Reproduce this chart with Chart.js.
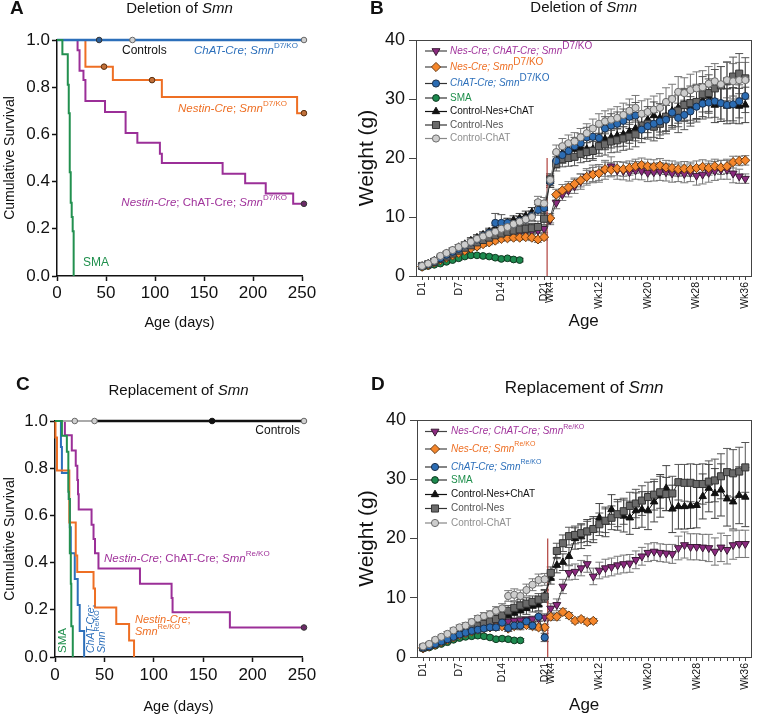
<!DOCTYPE html>
<html><head><meta charset="utf-8">
<script src="https://cdn.jsdelivr.net/npm/chart.js@4.4.1/dist/chart.umd.min.js"></script>
<style>
html,body{margin:0;padding:0;background:#fff;}
body{width:760px;height:716px;position:relative;overflow:hidden;}
canvas{position:absolute;}
</style></head><body>
<canvas id="cA" width="380" height="358" style="left:0;top:0"></canvas>
<canvas id="cB" width="420" height="358" style="left:340px;top:0"></canvas>
<canvas id="cC" width="380" height="358" style="left:0;top:358px"></canvas>
<canvas id="cD" width="420" height="358" style="left:340px;top:358px"></canvas>
<script>
// ================= DATA =================
// Panel A – Kaplan-Meier, deletion of Smn (event day, survival after event)
const aCtlT = [0, 252], aCtlS = [1, 1];
const aCtlCensT = [77, 252], aCtlCensS = [1, 1];
const aChatT = [0, 252], aChatS = [1, 1];
const aChatCensT = [43], aChatCensS = [1];
const aNesT = [0, 29, 57, 107, 245, 252];
const aNesS = [1, 0.887, 0.83, 0.759, 0.69, 0.69];
const aNesCensT = [48, 97, 252], aNesCensS = [0.887, 0.83, 0.69];
const aNesChatT = [0, 21, 23, 27, 29, 49, 70, 82, 105, 107, 169, 192, 213, 241, 252];
const aNesChatS = [1, 0.957, 0.87, 0.83, 0.742, 0.695, 0.606, 0.565, 0.518, 0.479, 0.433, 0.393, 0.35, 0.306, 0.306];
const aNesChatCensT = [252], aNesChatCensS = [0.306];
const aSmaT = [0, 5.5, 11, 12, 13, 14, 15, 16, 17];
const aSmaS = [1, 0.94, 0.81, 0.69, 0.44, 0.31, 0.25, 0.19, 0];

// Panel C – Kaplan-Meier, replacement of Smn
const cCtlGreyT = [0, 40], cCtlGreyS = [1, 1];
const cCtlBlackT = [40, 252], cCtlBlackS = [1, 1];
const cCtlCensT = [20, 40, 252], cCtlCensS = [1, 1, 1];
const cCtlBlackCensT = [159], cCtlBlackCensS = [1];
const cSmaT = [0, 7, 12, 13.5, 14, 15, 16, 16.5, 18];
const cSmaS = [1, 0.938, 0.87, 0.70, 0.67, 0.44, 0.31, 0.13, 0];
const cChatT = [0, 6, 7, 14, 15, 16, 20, 23, 25, 29.5];
const cChatS = [1, 0.89, 0.78, 0.67, 0.55, 0.44, 0.33, 0.22, 0.11, 0];
const cNesT = [0, 0.5, 2, 14.5, 21, 22.5, 39, 40.5, 62, 75, 80];
const cNesS = [1, 0.93, 0.79, 0.57, 0.43, 0.36, 0.29, 0.21, 0.14, 0.07, 0];
const cNesChatT = [0, 10, 17, 21, 22.6, 23.3, 24, 37, 39, 40.5, 44, 86, 118, 119, 177, 252];
const cNesChatS = [1, 0.94, 0.875, 0.81, 0.75, 0.69, 0.625, 0.56, 0.5, 0.44, 0.375, 0.31, 0.25, 0.19, 0.125, 0.125];
const cNesChatCensT = [252], cNesChatCensS = [0.125];

// Weight panels: age categories (tick labels)
const weightAges = ['D1','D2','D3','D4','D5','D6','D7','D8','D9','D10','D11','D12','D13','D14','D15','D16','D17','D18','D19','D20','D21',
  'Wk4','Wk5','Wk6','Wk7','Wk8','Wk9','Wk10','Wk11','Wk12','Wk13','Wk14','Wk15','Wk16','Wk17','Wk18','Wk19','Wk20','Wk21','Wk22','Wk23','Wk24','Wk25','Wk26','Wk27','Wk28','Wk29','Wk30','Wk31','Wk32','Wk33','Wk34','Wk35','Wk36'];
const shownAges = ['D1','D7','D14','D21','Wk4','Wk12','Wk20','Wk28','Wk36'];
const splitAt = 20.5, splitTop = 20;

// Panel B – weights (g), deletion
const bNesChat = [1.6,1.9,2.3,2.7,3.2,3.7,4.1,4.6,5.0,5.4,5.8,6.1,6.4,6.7,7.0,7.2,7.4,7.5,7.6,7.7,8.0,
  9.5,12.4,13.8,14.5,15.2,16.0,16.8,17.3,17.4,18.0,18.6,17.9,17.8,17.6,17.9,17.8,17.5,17.6,17.7,17.6,17.4,17.5,17.3,17.5,17.0,17.2,17.5,17.8,18.0,18.0,17.4,16.9,16.5];
const bNesChatErr = [0.2,0.2,0.2,0.3,0.3,0.3,0.3,0.4,0.4,0.4,0.4,0.5,0.5,0.5,0.5,0.5,0.5,0.5,0.5,0.5,0.6,
  0.8,1.0,1.0,1.1,1.2,1.3,1.4,1.5,1.5,1.6,1.6,1.5,1.5,1.5,1.5,1.5,1.5,1.5,1.5,1.5,1.5,1.5,1.5,1.5,1.6,1.6,1.6,1.6,1.6,1.6,1.6,1.2,0.8];
const bNes = [1.6,1.9,2.3,2.7,3.1,3.5,3.9,4.3,4.7,5.0,5.4,5.7,6.0,6.3,6.4,6.5,6.5,6.6,6.5,6.2,6.6,
  9.8,13.8,14.5,15.0,15.6,16.2,16.8,17.2,17.4,18.1,18.0,18.2,18.1,18.3,18.6,18.8,18.6,18.5,18.7,18.4,18.3,18.1,18.2,18.1,18.3,18.5,18.3,18.6,18.4,18.6,19.3,19.5,19.6];
const bNesErr = [0.2,0.2,0.2,0.2,0.3,0.3,0.3,0.3,0.3,0.4,0.4,0.4,0.4,0.4,0.4,0.4,0.4,0.4,0.5,0.5,0.5,
  0.8,0.9,1.0,1.0,1.0,1.1,1.1,1.2,1.2,1.2,1.2,1.2,1.2,1.2,1.2,1.2,1.2,1.2,1.2,1.2,1.2,1.2,1.2,1.2,1.2,1.2,1.2,1.2,1.2,1.2,1.0,0.8,0.8];
const bChat = [1.7,2.0,2.5,3.0,3.6,4.1,4.6,5.2,5.7,6.2,6.8,7.3,9.0,9.0,9.0,8.8,9.3,9.6,10.2,11.2,11.5,
  16.0,19.5,20.5,21.2,22.0,22.5,23.5,23.6,23.4,25.0,25.5,25.8,26.3,27.0,27.2,24.8,25.4,25.8,26.2,26.5,27.7,26.8,27.3,27.9,28.7,29.2,29.4,29.6,29.3,29.0,29.1,29.6,30.5];
const bChatErr = [0.2,0.2,0.3,0.3,0.3,0.4,0.4,0.4,0.5,0.5,0.5,0.6,1.6,1.4,0.8,0.8,0.8,0.8,0.8,0.9,0.9,
  1.0,1.2,1.4,1.5,1.5,1.6,1.7,1.8,1.8,2.0,2.0,2.0,2.0,2.0,2.2,2.2,2.2,2.3,2.3,2.4,2.5,2.5,2.5,2.5,2.6,2.6,2.6,2.7,2.7,2.7,2.8,2.8,2.8];
const bSma = [1.5,1.7,1.9,2.1,2.4,2.7,3.0,3.3,3.5,3.5,3.4,3.3,3.1,2.9,3.0,2.8,2.7];
const bSmaErr = [0.1,0.1,0.2,0.2,0.2,0.2,0.3,0.3,0.3,0.3,0.3,0.3,0.3,0.3,0.3,0.3,0.3];
const bCtlNesChat = [1.7,2.1,2.6,3.2,3.8,4.3,4.9,5.4,6.0,6.5,7.0,7.5,8.0,8.6,9.0,9.5,9.8,10.2,10.8,11.8,11.5,
  16.0,19.8,20.8,21.3,21.5,21.8,21.5,21.5,22.5,23.2,23.5,23.8,24.0,24.5,25.0,25.5,26.5,27.2,26.8,27.0,28.0,28.5,29.0,28.6,29.5,29.8,30.5,29.0,29.2,28.8,28.9,28.8,29.0];
const bCtlNesChatErr = [0.2,0.2,0.3,0.3,0.3,0.4,0.4,0.4,0.5,0.5,0.5,0.6,0.6,0.7,0.7,0.7,0.8,0.8,0.8,1.0,1.0,
  1.0,1.2,1.3,1.4,1.5,1.5,1.6,1.6,1.7,1.8,1.8,1.9,2.0,2.0,2.1,2.2,2.2,2.3,2.4,2.4,2.5,2.6,2.6,2.7,2.8,2.8,2.9,3.0,3.0,3.0,3.0,3.0,3.0];
const bCtlNes = [1.7,2.0,2.4,2.9,3.3,3.8,4.3,4.8,5.2,5.7,6.1,6.5,6.9,7.2,7.5,7.7,7.9,8.0,8.1,8.3,9.7,
  16.3,19.0,19.8,20.0,20.2,20.7,21.0,21.2,22.0,22.3,22.8,23.0,23.3,23.6,24.0,25.5,25.8,25.3,25.8,27.0,27.5,28.0,29.0,29.3,29.5,30.8,31.0,31.8,32.3,33.0,33.8,34.3,33.5];
const bCtlNesErr = [0.2,0.2,0.3,0.3,0.3,0.4,0.4,0.4,0.5,0.5,0.5,0.6,0.6,0.7,0.7,0.7,0.8,0.8,0.8,1.0,1.0,
  1.0,1.2,1.3,1.4,1.5,1.5,1.6,1.6,1.7,1.8,1.9,2.0,2.0,2.1,2.1,2.2,2.3,2.4,2.5,2.5,2.6,2.7,2.8,2.9,3.0,3.0,3.1,3.2,3.2,3.3,3.3,3.4,3.5];
const bCtlChat = [1.7,2.1,2.6,3.4,3.9,4.4,4.9,5.3,5.8,6.3,6.7,7.1,7.5,8.0,8.3,8.8,9.2,9.6,10.0,12.5,12.3,
  16.3,21.0,22.0,22.5,22.8,23.5,24.2,25.0,25.8,26.2,26.5,26.8,27.3,28.0,28.5,27.5,27.8,28.2,28.5,29.5,30.0,31.2,31.0,31.5,31.8,32.0,32.6,33.0,32.5,33.2,33.0,33.2,33.2];
const bCtlChatErr = [0.2,0.2,0.3,0.3,0.3,0.4,0.4,0.4,0.5,0.5,0.5,0.6,0.6,0.7,0.7,0.7,0.8,0.8,0.8,1.0,1.0,
  1.0,1.2,1.3,1.4,1.5,1.5,1.6,1.6,1.7,1.8,1.8,1.9,2.0,2.0,2.1,2.2,2.2,2.3,2.4,2.4,2.5,2.6,2.6,2.7,2.8,2.8,2.9,3.0,3.0,3.0,3.0,3.0,3.0];

// Panel D – weights (g), replacement
const dNesChat = [1.5,1.8,2.2,2.6,3.0,3.4,3.8,4.2,4.6,5.0,5.3,5.6,5.8,6.0,6.0,6.1,6.2,6.3,6.4,6.5,6.7,
  8.2,8.8,11.9,14.2,14.4,15.0,15.7,13.6,14.6,15.0,15.2,15.5,15.7,15.8,16.4,17.0,17.6,17.8,17.6,17.5,17.4,18.4,18.9,18.6,18.6,18.5,18.4,17.8,18.5,18.1,18.9,19.1,19.1];
const dNesChatErr = [0.2,0.2,0.2,0.3,0.3,0.3,0.3,0.4,0.4,0.4,0.4,0.5,0.5,0.5,0.5,0.5,0.5,0.5,0.5,0.5,0.6,
  0.8,1.0,1.2,1.2,1.3,1.3,1.4,1.4,1.4,1.5,1.5,1.5,1.5,1.5,1.5,1.5,1.5,1.5,1.5,1.5,1.6,2.0,2.2,2.2,2.2,2.2,2.3,2.3,2.4,2.4,2.4,2.3,2.3];
const dNes = [1.5,1.8,2.1,2.5,2.9,3.3,3.7,4.0,4.3,4.6,4.8,5.0,5.1,5.2,4.8,5.2,5.3,5.4,5.2,5.0,5.0,
  6.8,6.8,7.6,7.0,6.1,6.4,5.9,6.1];
const dNesErr = [0.2,0.2,0.2,0.2,0.3,0.3,0.3,0.3,0.3,0.4,0.4,0.4,0.4,0.4,0.4,0.4,0.4,0.4,0.5,0.5,0.5,
  0.6,0.6,0.6,0.5,0.4,0.4,0.4,0.4];
const dChat = [1.6,1.8,2.2,2.6,3.0,3.4,3.8,4.1,4.4,4.6,4.8,5.0,5.0,5.8,4.9,5.3,5.3,6.0,5.3,6.8,3.3];
const dChatErr = [0.2,0.2,0.2,0.3,0.3,0.3,0.3,0.4,0.4,0.4,0.4,0.5,0.5,0.6,0.6,0.6,0.7,0.8,0.6,0.8,0.7];
const dSma = [1.4,1.6,1.9,2.2,2.5,2.9,3.2,3.4,3.5,3.6,3.5,3.3,3.0,3.1,3.0,2.8,2.8];
const dSmaErr = [0.1,0.1,0.2,0.2,0.2,0.2,0.3,0.3,0.3,0.3,0.3,0.3,0.3,0.3,0.3,0.3,0.3];
const dCtlNesChat = [1.5,1.8,2.2,2.6,3.0,3.4,3.8,4.3,4.7,5.1,5.5,5.9,6.3,6.7,7.0,7.4,7.8,8.2,8.6,8.8,10.4,
  13.3,15.5,16.0,17.0,20.0,20.3,21.0,21.5,23.5,22.8,24.9,24.0,23.8,23.5,24.7,24.9,24.7,26.2,27.2,28.5,25.0,25.4,25.4,25.5,25.6,27.1,28.5,27.6,28.2,26.7,26.2,27.3,27.0];
const dCtlNesChatErr = [0.2,0.2,0.3,0.3,0.4,0.4,0.4,0.5,0.5,0.5,0.6,0.6,0.7,0.8,0.9,1.0,1.0,1.0,1.0,1.0,1.0,
  1.0,1.3,1.4,1.5,1.8,2.0,2.2,2.2,2.4,2.5,2.5,2.6,2.7,2.8,3.0,3.0,3.2,3.4,3.6,3.8,4.0,3.8,3.8,3.8,3.8,3.8,4.0,4.2,4.4,4.6,4.6,4.8,5.0];
const dCtlNes = [1.6,1.9,2.3,2.7,3.1,3.6,4.0,4.4,4.8,5.2,5.6,6.0,6.4,7.0,7.8,8.3,8.7,9.0,9.3,9.7,10.2,
  14.2,17.9,19.2,20.4,20.6,20.9,21.2,21.6,22.4,23.0,23.5,24.1,24.6,25.5,25.9,26.4,27.0,27.4,27.8,27.5,27.6,29.5,29.4,29.4,29.2,29.2,29.6,29.8,30.5,31.2,31.0,31.3,32.0];
const dCtlNesErr = [0.2,0.2,0.3,0.3,0.4,0.4,0.4,0.5,0.5,0.5,0.6,0.6,0.7,0.8,0.9,1.0,1.0,1.0,1.0,1.0,1.0,
  1.0,1.3,1.4,1.5,1.5,1.6,1.7,1.8,1.9,2.0,2.0,2.1,2.2,2.3,2.4,2.5,2.5,2.6,2.7,2.8,2.9,3.0,3.1,3.2,3.3,3.4,3.5,3.6,3.8,4.0,4.0,4.1,4.2];
const dCtlChat = [1.8,2.2,2.9,3.4,3.9,4.5,5.0,5.3,5.9,6.5,6.9,7.2,7.8,8.2,10.3,10.5,10.3,11.3,12.2,13.0,13.1];
const dCtlChatErr = [0.2,0.2,0.3,0.3,0.4,0.4,0.4,0.5,0.5,0.5,0.6,0.6,0.7,0.8,0.9,1.0,1.0,1.0,1.0,1.0,1.0];

// ================= STYLE / HELPERS =================
const FF = '"Liberation Sans", Arial, Helvetica, sans-serif';
Chart.defaults.font.family = FF;
Chart.defaults.color = '#111';
Chart.defaults.animation = false;

const COL = {purple:'#a0339b', orange:'#ee6f24', blue:'#2c6fba', green:'#1f8f4c'};
const STY = {
  nesChat:    {fill:'#8b2a7f', bd:'#3a1a35', style:'triangle', rot:180, r:4.6, line:'#444', err:'#777'},
  nes:        {fill:'#f5862b', bd:'#6b3a10', style:'rectRot', rot:0, r:4.6, line:'#444', err:'#777'},
  chat:       {fill:'#2b6cb3', bd:'#1b2f4a', style:'circle', rot:0, r:3.6, line:'#333', err:'#555'},
  sma:        {fill:'#1d8a4f', bd:'#113a22', style:'circle', rot:0, r:3.4, line:'#333', err:'#555'},
  ctlNesChat: {fill:'#111111', bd:'#111', style:'triangle', rot:0, r:4.3, line:'#111', err:'#444'},
  ctlNes:     {fill:'#6a6a6a', bd:'#333', style:'rect', rot:0, r:5, line:'#333', err:'#555'},
  ctlChat:    {fill:'#cdcdcd', bd:'#6a6a6a', style:'circle', rot:0, r:3.6, line:'#888', err:'#777'}
};

function fontStr(sz, it, bold) { return (it ? 'italic ' : '') + (bold ? 'bold ' : '') + sz + 'px ' + FF; }
function drawRich(ctx, x, y, parts, o) {
  const sz = o.size, supSz = o.sup || sz * 0.7;
  const meta = parts.map(p => {
    const t = p[0], f = p[1] || '';
    const isSup = f.includes('s'), isBig = f.includes('S');
    const fs = isSup ? supSz : sz;
    const font = fontStr(fs, f.includes('i'), f.includes('b'));
    ctx.font = font;
    return {t, font, w: ctx.measureText(t).width, dy: isSup ? -sz * 0.45 : (isBig ? -sz * 0.5 : 0)};
  });
  const total = meta.reduce((a, m) => a + m.w, 0);
  let cx = o.align === 'right' ? x - total : (o.align === 'center' ? x - total / 2 : x);
  ctx.save();
  ctx.fillStyle = o.color; ctx.textBaseline = 'middle'; ctx.textAlign = 'left';
  meta.forEach(m => { ctx.font = m.font; ctx.fillText(m.t, cx, y + m.dy); cx += m.w; });
  ctx.restore();
}
function drawItems(ctx, items) {
  items.forEach(it => {
    if (it.rot) {
      ctx.save(); ctx.translate(it.x, it.y); ctx.rotate(-Math.PI / 2);
      drawRich(ctx, 0, 0, it.parts, it); ctx.restore();
    } else drawRich(ctx, it.x, it.y, it.parts, it);
  });
}
const textPlugin = {
  id: 'texts',
  afterDraw(chart, args, opts) {
    const ctx = chart.ctx, ca = chart.chartArea;
    (opts.items || []).forEach(it => {
      const x = it.x === 'center' ? (ca.left + ca.right) / 2 : it.x;
      drawItems(ctx, [Object.assign({}, it, {x})]);
    });
  }
};
const errorBars = {
  id: 'errorBars',
  beforeDatasetsDraw(chart) {
    const ctx = chart.ctx, xs = chart.scales.x, ys = chart.scales.y;
    chart.data.datasets.forEach(ds => {
      if (!ds.err) return;
      ctx.save(); ctx.strokeStyle = ds.errColor || '#555'; ctx.lineWidth = 1;
      ds.data.forEach((p, k) => {
        const e = ds.err[k];
        if (p.y == null || !e) return;
        const x = xs.getPixelForValue(p.x), yt = ys.getPixelForValue(p.y + e), yb = ys.getPixelForValue(p.y - e);
        ctx.beginPath();
        ctx.moveTo(x, yb); ctx.lineTo(x, yt);
        ctx.moveTo(x - 4, yt); ctx.lineTo(x + 4, yt);
        ctx.moveTo(x - 4, yb); ctx.lineTo(x + 4, yb);
        ctx.stroke();
      });
      ctx.restore();
    });
  }
};
const boxPlugin = {
  id: 'box',
  beforeDatasetsDraw(chart) {
    const ctx = chart.ctx, a = chart.chartArea;
    ctx.save(); ctx.strokeStyle = '#444'; ctx.lineWidth = 1;
    ctx.strokeRect(Math.round(a.left) + 0.5, Math.round(a.top) + 0.5, Math.round(a.right - a.left), Math.round(a.bottom - a.top));
    ctx.restore();
  }
};
const legendPlugin = {
  id: 'wlegend',
  afterDraw(chart, args, opts) {
    const ctx = chart.ctx;
    (opts.rows || []).forEach(r => {
      const s = STY[r.key];
      ctx.save();
      ctx.strokeStyle = s.line; ctx.lineWidth = 1.2;
      ctx.beginPath(); ctx.moveTo(opts.x0, r.y); ctx.lineTo(opts.x1, r.y); ctx.stroke();
      ctx.fillStyle = s.fill; ctx.strokeStyle = s.bd; ctx.lineWidth = 1;
      Chart.helpers.drawPoint(ctx, {pointStyle: s.style, rotation: s.rot, radius: s.r, borderWidth: 1}, opts.xm, r.y);
      ctx.restore();
      drawRich(ctx, opts.xt, r.y, r.parts, {size: opts.size, sup: opts.sup, color: r.color});
    });
  }
};

function km(T, S) { return T.map((t, i) => ({x: t, y: S[i]})); }
function kmSet(T, S, color, w) {
  return {data: km(T, S), borderColor: color, borderWidth: w || 2, stepped: true, pointRadius: 0, clip: false, fill: false};
}
function censSet(T, S, fill, bd) {
  return {data: km(T, S), showLine: false, pointRadius: 2.8, pointBackgroundColor: fill, pointBorderColor: bd, pointBorderWidth: 1, clip: false};
}
function wSet(vals, err, key) {
  const s = STY[key];
  return {data: vals.map((v, i) => ({x: i, y: v})), err, errColor: s.err,
    borderColor: s.line, borderWidth: 1, pointStyle: s.style, pointRotation: s.rot, pointRadius: s.r,
    pointBackgroundColor: s.fill, pointBorderColor: s.bd, pointBorderWidth: 1, clip: false, fill: false};
}

function survChart(id, datasets, o, items) {
  return new Chart(document.getElementById(id), {
    type: 'line', data: {datasets},
    options: {
      responsive: false, animation: false, devicePixelRatio: 1,
      layout: {padding: {top: o.top, right: o.right, left: 0, bottom: 0}},
      plugins: {legend: {display: false}, tooltip: {enabled: false}, texts: {items}},
      scales: {
        x: {type: 'linear', min: 0, max: 250, afterFit: s => { s.height = o.xh; },
          ticks: {stepSize: 50, padding: o.xpad, font: {size: 17}, color: '#111', maxRotation: 0},
          grid: {drawOnChartArea: false, tickLength: 5, tickColor: '#111', tickWidth: 1.5},
          border: {display: true, color: '#111', width: 1.5},
          title: {display: true, text: 'Age (days)', font: {size: 14.5}, color: '#111', padding: {top: 0, bottom: o.xtb}}},
        y: {type: 'linear', min: 0, max: 1, afterFit: s => { s.width = o.yw; },
          ticks: {stepSize: 0.2, padding: 2, font: {size: 17}, color: '#111', callback: v => Number(v).toFixed(1)},
          grid: {drawOnChartArea: false, tickLength: 5, tickColor: '#111', tickWidth: 1.5},
          border: {display: true, color: '#111', width: 1.5},
          title: {display: true, text: 'Cumulative Survival', font: {size: 14}, color: '#111', padding: {top: o.ytp, bottom: 0}}}
      }
    },
    plugins: [textPlugin]
  });
}

function weightChart(id, datasets, o, items, legend) {
  return new Chart(document.getElementById(id), {
    type: 'line', data: {datasets},
    options: {
      responsive: false, animation: false, devicePixelRatio: 1,
      layout: {padding: {top: o.top, right: o.right, left: 0, bottom: 0}},
      plugins: {legend: {display: false}, tooltip: {enabled: false}, texts: {items}, wlegend: legend},
      scales: {
        x: {type: 'linear', min: -1, max: 54,
          afterBuildTicks: s => { s.ticks = weightAges.map((l, i) => ({value: i})); },
          afterFit: s => { s.height = o.xh; },
          ticks: {autoSkip: false, minRotation: 90, maxRotation: 90, padding: 2, font: {size: 10.5}, color: '#111',
            callback: v => (shownAges.includes(weightAges[v]) ? weightAges[v] : '')},
          grid: {drawOnChartArea: false, tickLength: 4, tickColor: '#444'},
          border: {display: true, color: '#444', width: 1},
          title: {display: true, text: 'Age', font: {size: 17}, color: '#111', padding: {top: 0, bottom: o.xtb}}},
        y: {type: 'linear', min: 0, max: 40, afterFit: s => { s.width = o.yw; },
          ticks: {stepSize: 10, padding: 4, font: {size: 18}, color: '#111'},
          grid: {drawOnChartArea: false, tickLength: 7, tickColor: '#444'},
          border: {display: true, color: '#444', width: 1},
          title: {display: true, text: 'Weight (g)', font: {size: 21}, color: '#111', padding: {top: o.ytp, bottom: 0}}}
      }
    },
    plugins: [textPlugin, errorBars, boxPlugin, legendPlugin]
  });
}

// ================= PANEL A =================
survChart('cA', [
  censSet(aCtlCensT, aCtlCensS, '#d0d0d0', '#666'),
  censSet(aChatCensT, aChatCensS, '#2c5f9a', '#333'),
  censSet(aNesCensT, aNesCensS, '#c0703a', '#5a3010'),
  censSet(aNesChatCensT, aNesChatCensS, '#6a2a66', '#333'),
  kmSet(aSmaT, aSmaS, '#22904f', 2),
  kmSet(aChatT, aChatS, '#2c6fba', 2.5),
  kmSet(aCtlT, aCtlS, '#999', 2),
  kmSet(aNesT, aNesS, '#ee6f24', 2),
  kmSet(aNesChatT, aNesChatS, '#9b2f98', 2)
], {top: 40, right: 78, xh: 82, yw: 57, xpad: 2, xtb: 26, ytp: 1.6}, [
  {x: 10, y: 9, size: 19, color: '#111', parts: [['A', 'b']]},
  {x: 'center', y: 9, size: 15, color: '#111', align: 'center', parts: [['Deletion of '], ['Smn', 'i']]},
  {x: 122, y: 51, size: 12, color: '#111', parts: [['Controls']]},
  {x: 194, y: 51, size: 11.5, sup: 8, color: COL.blue, parts: [['ChAT-Cre', 'i'], ['; '], ['Smn', 'i'], ['D7/KO', 's']]},
  {x: 287, y: 109, size: 11.5, sup: 8, color: COL.orange, align: 'right', parts: [['Nestin-Cre', 'i'], ['; '], ['Smn', 'i'], ['D7/KO', 's']]},
  {x: 287, y: 203, size: 11.5, sup: 8, color: COL.purple, align: 'right', parts: [['Nestin-Cre', 'i'], ['; ChAT-Cre; '], ['Smn', 'i'], ['D7/KO', 's']]},
  {x: 83, y: 263, size: 12, color: COL.green, parts: [['SMA']]}
]);

// ================= PANEL C =================
survChart('cC', [
  censSet(cCtlCensT, cCtlCensS, '#d0d0d0', '#666'),
  censSet(cCtlBlackCensT, cCtlBlackCensS, '#111', '#111'),
  censSet(cNesChatCensT, cNesChatCensS, '#6a2a66', '#333'),
  kmSet(cSmaT, cSmaS, '#22904f', 2),
  kmSet(cCtlBlackT, cCtlBlackS, '#111', 2.5),
  kmSet(cCtlGreyT, cCtlGreyS, '#aaa', 2),
  kmSet(cNesChatT, cNesChatS, '#9b2f98', 2),
  kmSet(cNesT, cNesS, '#ee6f24', 2),
  kmSet(cChatT, cChatS, '#2c6fba', 2)
], {top: 63, right: 78, xh: 59, yw: 55, xpad: 3, xtb: 0, ytp: 1.6}, [
  {x: 16, y: 27, size: 19, color: '#111', parts: [['C', 'b']]},
  {x: 'center', y: 33, size: 15, color: '#111', align: 'center', parts: [['Replacement of '], ['Smn', 'i']]},
  {x: 300, y: 73, size: 12, color: '#111', align: 'right', parts: [['Controls']]},
  {x: 104, y: 201, size: 11.5, sup: 8, color: COL.purple, parts: [['Nestin-Cre', 'i'], ['; ChAT-Cre; '], ['Smn', 'i'], ['Re/KO', 's']]},
  {x: 135, y: 262, size: 11, sup: 7.5, color: COL.orange, parts: [['Nestin-Cre', 'i'], [';']]},
  {x: 135, y: 274, size: 11, sup: 7.5, color: COL.orange, parts: [['Smn', 'i'], ['Re/KO', 's']]},
  {x: 63, y: 295, size: 11.5, color: COL.green, rot: true, parts: [['SMA']]},
  {x: 91, y: 295, size: 10.5, sup: 7, color: COL.blue, rot: true, parts: [['ChAT-Cre', 'i'], [';']]},
  {x: 102, y: 295, size: 10.5, sup: 7, color: COL.blue, rot: true, parts: [['Smn', 'i'], ['Re/KO', 's']]}
]);

// ================= PANEL B =================
weightChart('cB', [
  wSet(bCtlChat, bCtlChatErr, 'ctlChat'),
  wSet(bChat, bChatErr, 'chat'),
  wSet(bCtlNes, bCtlNesErr, 'ctlNes'),
  wSet(bCtlNesChat, bCtlNesChatErr, 'ctlNesChat'),
  wSet(bNes, bNesErr, 'nes'),
  wSet(bNesChat, bNesChatErr, 'nesChat'),
  wSet(bSma, bSmaErr, 'sma'),
  {data: [{x: splitAt, y: 0}, {x: splitAt, y: splitTop}], borderColor: '#b0403c', borderWidth: 1.2, pointRadius: 0}
], {top: 40, right: 4, xh: 82, yw: 76, xtb: 26, ytp: 14.4}, [
  {x: 30, y: 9, size: 19, color: '#111', parts: [['B', 'b']]},
  {x: 'center', y: 8, size: 15, color: '#111', align: 'center', parts: [['Deletion of '], ['Smn', 'i']]}
], {x0: 85, x1: 107, xm: 96, xt: 110, size: 10, rows: [
  {key: 'nesChat', y: 51, color: COL.purple, parts: [['Nes-Cre; ChAT-Cre; Smn', 'i'], ['D7/KO', 'S']]},
  {key: 'nes', y: 67, color: COL.orange, parts: [['Nes-Cre; Smn', 'i'], ['D7/KO', 'S']]},
  {key: 'chat', y: 83.5, color: COL.blue, parts: [['ChAT-Cre; Smn', 'i'], ['D7/KO', 'S']]},
  {key: 'sma', y: 98, color: COL.green, parts: [['SMA']]},
  {key: 'ctlNesChat', y: 111.5, color: '#111', parts: [['Control-Nes+ChAT']]},
  {key: 'ctlNes', y: 125, color: '#555', parts: [['Control-Nes']]},
  {key: 'ctlChat', y: 138.5, color: '#8f8f8f', parts: [['Control-ChAT']]}
]});

// ================= PANEL D =================
weightChart('cD', [
  wSet(dCtlChat, dCtlChatErr, 'ctlChat'),
  wSet(dChat, dChatErr, 'chat'),
  wSet(dCtlNes, dCtlNesErr, 'ctlNes'),
  wSet(dCtlNesChat, dCtlNesChatErr, 'ctlNesChat'),
  wSet(dNes, dNesErr, 'nes'),
  wSet(dNesChat, dNesChatErr, 'nesChat'),
  wSet(dSma, dSmaErr, 'sma'),
  {data: [{x: splitAt, y: 0}, {x: splitAt, y: splitTop}], borderColor: '#b0403c', borderWidth: 1.2, pointRadius: 0}
], {top: 62, right: 3, xh: 59, yw: 77, xtb: 0, ytp: 14.4}, [
  {x: 31, y: 27, size: 19, color: '#111', parts: [['D', 'b']]},
  {x: 'center', y: 30, size: 17, color: '#111', align: 'center', parts: [['Replacement of '], ['Smn', 'i']]}
], {x0: 85, x1: 107, xm: 95, xt: 111, size: 10, sup: 7, rows: [
  {key: 'nesChat', y: 73.5, color: COL.purple, parts: [['Nes-Cre; ChAT-Cre; Smn', 'i'], ['Re/KO', 's']]},
  {key: 'nes', y: 91, color: COL.orange, parts: [['Nes-Cre; Smn', 'i'], ['Re/KO', 's']]},
  {key: 'chat', y: 109, color: COL.blue, parts: [['ChAT-Cre; Smn', 'i'], ['Re/KO', 's']]},
  {key: 'sma', y: 122, color: COL.green, parts: [['SMA']]},
  {key: 'ctlNesChat', y: 136.5, color: '#111', parts: [['Control-Nes+ChAT']]},
  {key: 'ctlNes', y: 150.5, color: '#555', parts: [['Control-Nes']]},
  {key: 'ctlChat', y: 165, color: '#8f8f8f', parts: [['Control-ChAT']]}
]});
</script>
</body></html>
